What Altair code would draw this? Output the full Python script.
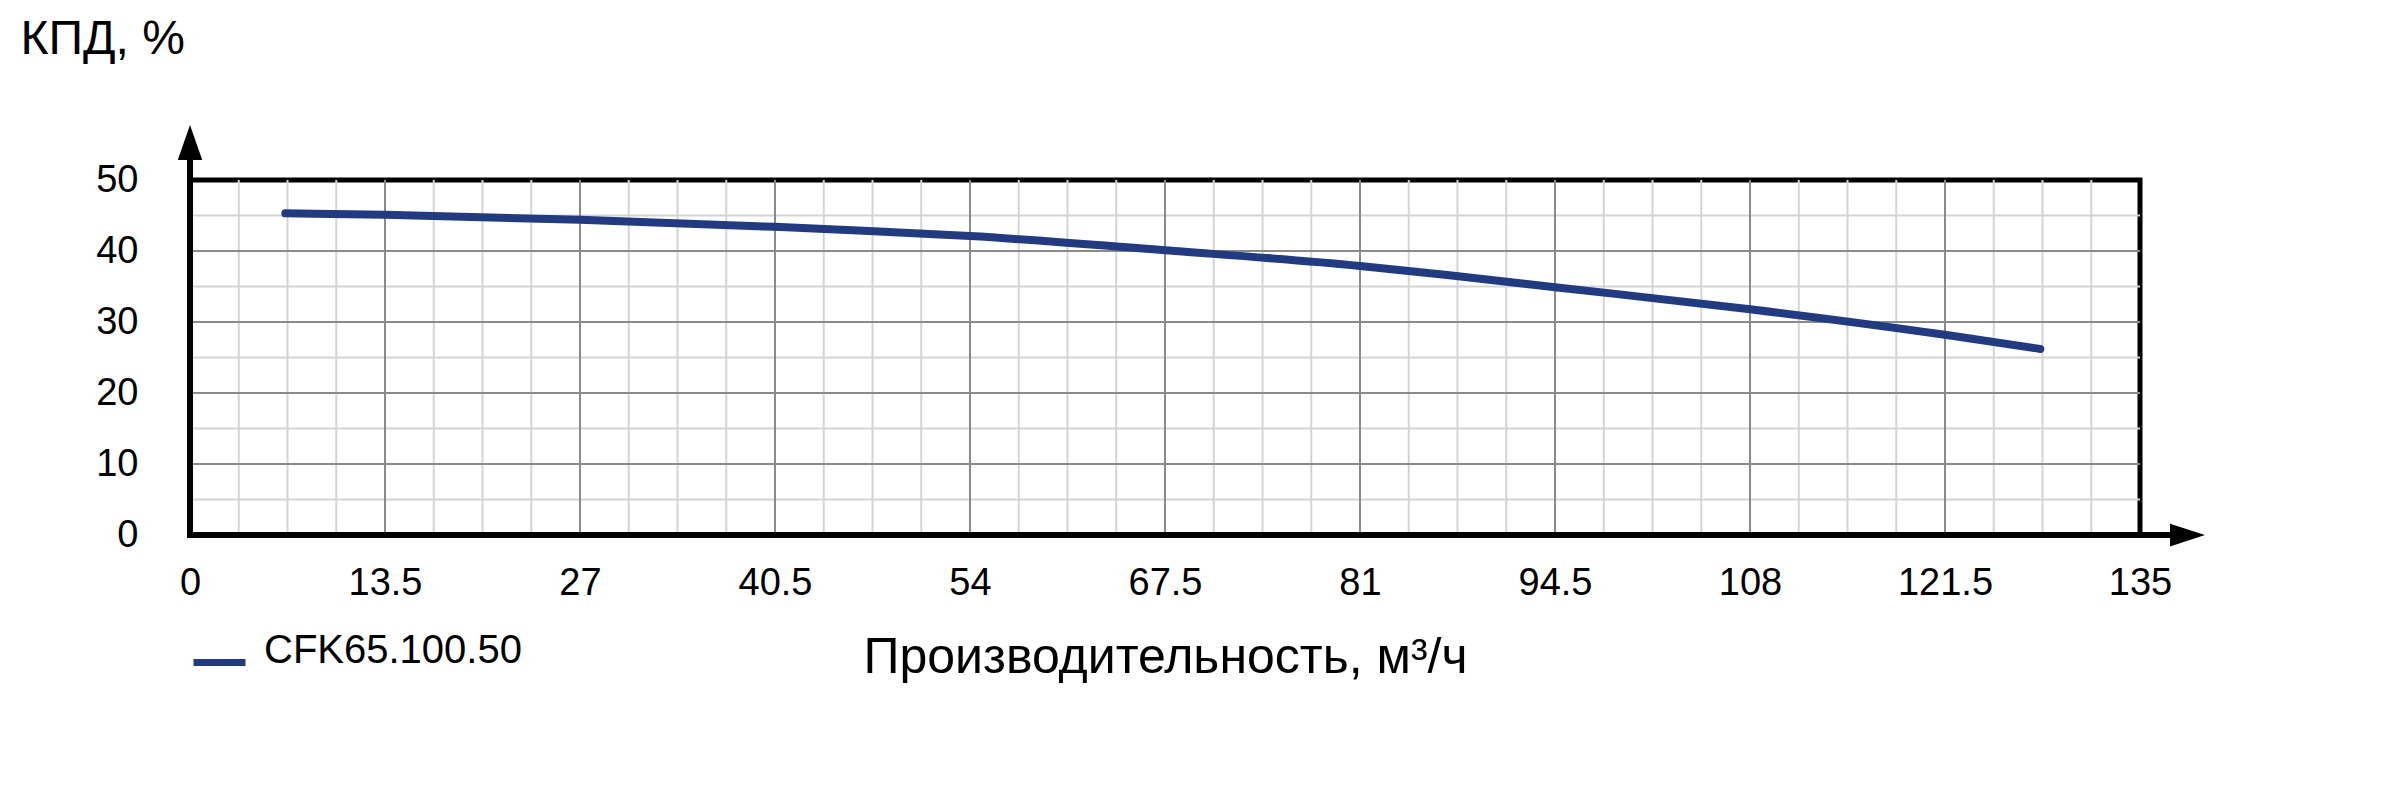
import altair as alt
import pandas as pd

# ---- data ----
flow = [6.6, 13.5, 27, 40.5, 47, 54, 67.5, 81, 87.5, 94.5, 108, 121.5, 128.1]
eff = [45.3, 45.1, 44.4, 43.4, 42.8, 42.1, 40.1, 37.9, 36.5, 34.9, 31.8, 28.2, 26.2]
series_name = "CFK65.100.50"

x_ticks = [0, 13.5, 27, 40.5, 54, 67.5, 81, 94.5, 108, 121.5, 135]
y_ticks = [0, 10, 20, 30, 40, 50]
x_major_grid = [13.5, 27, 40.5, 54, 67.5, 81, 94.5, 108, 121.5]
x_minor_grid = [3.375 * k for k in range(1, 40) if k % 4 != 0]
y_major_grid = [10, 20, 30, 40]
y_minor_grid = [5, 15, 25, 35, 45]

FONT = "Liberation Sans"
W, H = 1950, 355

df = pd.DataFrame({"q": flow, "eff": eff, "series": series_name})

xscale = alt.Scale(domain=[0, 135], nice=False, zero=True)
yscale = alt.Scale(domain=[0, 50], nice=False, zero=True)

x_axis = alt.Axis(
    values=x_ticks,
    labelExpr="'' + datum.value",
    grid=False,
    domain=False,
    ticks=False,
    labelFont=FONT,
    labelFontSize=38,
    labelColor="black",
    labelPadding=29,
    labelFlush=False,
    title="Производительность, м³/ч",
    titleFont=FONT,
    titleFontSize=50,
    titleFontWeight="normal",
    titleColor="black",
    titleY=137,
    titleBaseline="alphabetic",
)
y_axis = alt.Axis(
    values=y_ticks,
    grid=False,
    domain=False,
    ticks=False,
    labelFont=FONT,
    labelFontSize=38,
    labelColor="black",
    labelPadding=52,
    labelFlush=False,
    title="КПД, %",
    titleFont=FONT,
    titleFontSize=48,
    titleFontWeight="normal",
    titleColor="black",
    titleAngle=0,
    titleX=-170,
    titleY=-127,
    titleAlign="left",
    titleBaseline="alphabetic",
)

minor_x = alt.Chart(pd.DataFrame({"v": x_minor_grid})).mark_rule(
    color="#d4d4d4", strokeWidth=2
).encode(x=alt.X("v:Q", scale=xscale, axis=x_axis))
minor_y = alt.Chart(pd.DataFrame({"v": y_minor_grid})).mark_rule(
    color="#d4d4d4", strokeWidth=2
).encode(y=alt.Y("v:Q", scale=yscale, axis=y_axis))
major_x = alt.Chart(pd.DataFrame({"v": x_major_grid})).mark_rule(
    color="#8a8a8a", strokeWidth=2
).encode(x=alt.X("v:Q", scale=xscale, axis=x_axis))
major_y = alt.Chart(pd.DataFrame({"v": y_major_grid})).mark_rule(
    color="#8a8a8a", strokeWidth=2
).encode(y=alt.Y("v:Q", scale=yscale, axis=y_axis))

line = alt.Chart(df).mark_line(
    strokeWidth=8, strokeCap="round", interpolate="monotone"
).encode(
    x=alt.X("q:Q", scale=xscale, axis=x_axis),
    y=alt.Y("eff:Q", scale=yscale, axis=y_axis),
    color=alt.Color(
        "series:N",
        scale=alt.Scale(range=["#213a80"]),
        legend=alt.Legend(
            title=None,
            orient="none",
            legendX=0,
            legendY=453,
            symbolType="stroke",
            symbolStrokeWidth=7,
            symbolSize=2704,
            labelFont=FONT,
            labelFontSize=40,
            labelColor="black",
            labelOffset=15,
            labelLimit=0,
            labelBaseline="alphabetic",
            padding=0,
        ),
    ),
)

y_axis_line = alt.Chart(df).mark_rule(color="black", strokeWidth=6).encode(
    x=alt.value(0), y=alt.value(H + 3), y2=alt.value(-25)
)
x_axis_line = alt.Chart(df).mark_rule(color="black", strokeWidth=6).encode(
    x=alt.value(-3), x2=alt.value(W + 30), y=alt.value(H)
)
y_arrow = alt.Chart(df.head(1)).mark_point(
    shape="M0,-1L0.7,1L-0.7,1Z", filled=True, color="black", opacity=1, size=1225
).encode(x=alt.value(0), y=alt.value(-37.5))
x_arrow = alt.Chart(df.head(1)).mark_point(
    shape="M1,0L-1,-0.65L-1,0.65Z", filled=True, color="black", opacity=1, size=1225
).encode(x=alt.value(W + 47.5), y=alt.value(H))

chart = alt.layer(
    minor_x, minor_y, major_x, major_y, line, y_axis_line, x_axis_line, y_arrow, x_arrow
).properties(
    width=W,
    height=H,
    autosize=alt.AutoSizeParams(type="none"),
    padding={"left": 182, "top": 172, "right": 250, "bottom": 250},
    background="white",
).configure_view(stroke="black", strokeWidth=5)

chart.save("out.html", embed_options={"renderer": "svg", "actions": False})
